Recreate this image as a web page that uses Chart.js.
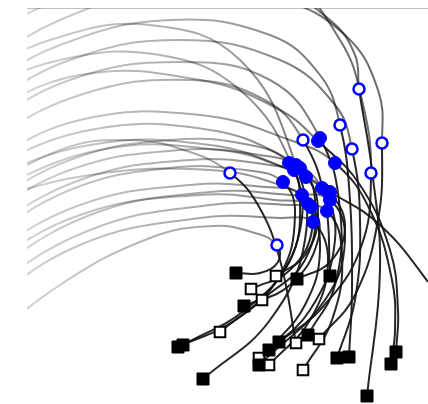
<!DOCTYPE html>
<html>
<head>
<meta charset="utf-8">
<script src="https://cdn.jsdelivr.net/npm/chart.js@4.4.1/dist/chart.umd.min.js"></script>
<style>
  html, body { margin: 0; padding: 0; background: #fff; }
  #wrap { width: 428px; height: 404px; }
</style>
</head>
<body>
<div id="wrap"><canvas id="chart"></canvas></div>
<script>
// grey approach arcs, one per track, each ending at its blue marker
const approachX = [
  [-57, 33, 143, 253, 318, 351, 355], [-57, 33, 143, 243, 303, 328, 332], [-57, 33, 143, 243, 293, 313],
  [-57, 43, 153, 253, 308, 325], [-57, 33, 153, 263, 313, 335, 344], [-57, 43, 153, 243, 293],
  [-57, 53, 163, 238, 276], [-57, 53, 173, 253, 291], [-57, 33, 103, 163, 203],
  [-57, 43, 143, 223, 262], [-57, 43, 153, 233, 273], [-57, 53, 163, 243, 279],
  [-57, 43, 143, 218, 256], [-57, 53, 173, 263, 308], [-57, 53, 163, 238, 275],
  [-57, 63, 183, 263, 301], [-57, 63, 183, 263, 303], [-57, 53, 173, 248, 284],
  [-57, 63, 183, 263, 300], [-57, 53, 173, 253, 286], [-57, 33, 123, 187, 228, 250],
  [-57, 33, 133, 213, 267], [-57, 23, 123, 213, 269], [-57, 63, 183, 253, 281],
  [-57, 63, 183, 263, 295], [-57, 73, 193, 263, 303]
];
const approachY = [
  [329, 384, 414, 404, 369, 314, 261], [359, 404, 429, 419, 384, 349, 315], [309, 359, 384, 369, 329, 279],
  [289, 344, 364, 344, 299, 255], [374, 419, 439, 419, 364, 304, 231], [269, 324, 342, 324, 266],
  [254, 309, 324, 304, 264], [284, 329, 324, 294, 263], [204, 254, 264, 252, 231],
  [189, 244, 264, 259, 241], [179, 234, 254, 249, 236], [164, 224, 244, 239, 227],
  [154, 214, 236, 234, 222], [234, 284, 289, 264, 241], [139, 199, 219, 217, 209],
  [219, 259, 259, 234, 212], [119, 189, 212, 209, 204], [129, 189, 209, 204, 197],
  [104, 174, 199, 199, 193], [89, 159, 186, 186, 182], [49, 119, 166, 178, 171, 159],
  [309, 344, 349, 314, 234], [324, 364, 379, 344, 239], [199, 229, 234, 219, 200],
  [229, 274, 274, 244, 216], [204, 254, 254, 234, 212]
];
// dark descent after the blue marker, ending at the square
const descentX = [
  [351, 328, 292], [345, 353, 340], [323, 325, 322], [333, 328, 310],
  [333, 293, 252], [313, 308, 281], [298, 303], [333, 363, 371, 369],
  [231, 253, 269], [273, 263, 218, 156], [288, 278, 235], [291, 278, 249],
  [268, 253, 208, 151], [343, 365, 368, 364], [285, 263, 224], [318, 303, 270],
  [318, 298, 232], [291, 263, 217], [315, 305, 276], [301, 283, 242],
  [251, 233, 209], [273, 243, 193], [278, 243, 176], [293, 278, 242],
  [308, 283, 232], [353, 401, 443]
];
const descentY = [
  [184, 109, 65], [234, 134, 8], [204, 114, 47], [184, 104, 46],
  [154, 94, 62], [194, 119, 69], [204, 128], [219, 154, 94, 52],
  [199, 144, 61], [204, 144, 94, 59], [204, 144, 104], [189, 149, 128],
  [189, 129, 84, 57], [194, 124, 74, 40], [174, 134, 115], [179, 142, 125],
  [164, 104, 39], [164, 119, 98], [149, 84, 34], [142, 84, 39],
  [142, 131, 131], [174, 114, 72], [164, 84, 25], [154, 99, 54],
  [164, 94, 46], [179, 122, 59]
];
// 1 = hollow marker, 0 = solid marker
const circleOpen = [1, 1, 1, 1, 1, 0, 1, 0, 1, 0, 0, 0, 0, 0, 0, 0, 0, 0, 0, 0, 1, 0, 0, 0, 0, 0];
const squareOpen = [1, 0, 0, 0, 0, 0, 0, 0, 1, 0, 1, 1, 0, 0, 1, 0, 0, 0, 1, 1, 0, 1, 0, 0, 1, 0];

const BLUE = '#0000ff';
const INK = 'rgba(20,20,20,0.92)';

let fade = null;
function greyFade(ctx) {
  const area = ctx.chart.chartArea;
  if (!area) return 'rgba(0,0,0,0.4)';
  if (!fade) {
    fade = ctx.chart.ctx.createLinearGradient(area.left, 0, area.right, 0);
    fade.addColorStop(0, 'rgba(0,0,0,0.18)');
    fade.addColorStop(0.45, 'rgba(0,0,0,0.35)');
    fade.addColorStop(0.75, 'rgba(0,0,0,0.55)');
    fade.addColorStop(1, 'rgba(0,0,0,0.62)');
  }
  return fade;
}

const pts = (xs, ys) => xs.map((x, i) => ({ x: x, y: ys[i] }));

const openCircles = [], solidCircles = [], openSquares = [], solidSquares = [];
const greyLayer = [], inkLayer = [];

approachX.forEach((xs, k) => {
  const approach = pts(xs, approachY[k]);
  const tail = pts(descentX[k], descentY[k]);
  const track = approach.concat(tail);
  const hit = approach.length - 1;
  (circleOpen[k] ? openCircles : solidCircles).push(track[hit]);
  (squareOpen[k] ? openSquares : solidSquares).push(track[track.length - 1]);

  // same path twice so both halves share one smooth curve
  const line = { data: track, showLine: true, borderWidth: 2, pointRadius: 0, tension: 0.42, capBezierPoints: false };
  greyLayer.push(Object.assign({}, line, {
    order: 3, borderColor: greyFade,
    segment: { borderColor: c => (c.p0DataIndex >= hit ? 'rgba(0,0,0,0)' : undefined) }
  }));
  inkLayer.push(Object.assign({}, line, {
    order: 2, borderColor: INK,
    segment: { borderColor: c => (c.p0DataIndex >= hit ? INK : 'rgba(0,0,0,0)') }
  }));
});

const markerSets = [
  { data: solidSquares, pointStyle: 'rect', pointRadius: 8.5, backgroundColor: '#000', borderColor: '#000', borderWidth: 1, order: 0 },
  { data: openSquares, pointStyle: 'rect', pointRadius: 7.5, backgroundColor: '#fff', borderColor: '#000', borderWidth: 2, order: 0 },
  { data: solidCircles, pointStyle: 'circle', pointRadius: 6.5, backgroundColor: BLUE, borderColor: BLUE, borderWidth: 1, order: 1 },
  { data: openCircles, pointStyle: 'circle', pointRadius: 5.5, backgroundColor: '#fff', borderColor: BLUE, borderWidth: 2.5, order: 1 }
];

new Chart(document.getElementById('chart'), {
  type: 'scatter',
  data: { datasets: markerSets.concat(inkLayer, greyLayer) },
  options: {
    responsive: true,
    maintainAspectRatio: false,
    animation: false,
    layout: { autoPadding: false, padding: { left: 27, top: 8, right: 0, bottom: 0 } },
    plugins: { legend: { display: false }, tooltip: { enabled: false } },
    scales: {
      x: {
        type: 'linear', min: 0, max: 401, position: 'top',
        grid: { display: false, drawTicks: false },
        ticks: { display: false },
        border: { display: true, color: '#c0c0c0', width: 1 }
      },
      y: { type: 'linear', min: 0, max: 396, display: false }
    }
  }
});
</script>
</body>
</html>
